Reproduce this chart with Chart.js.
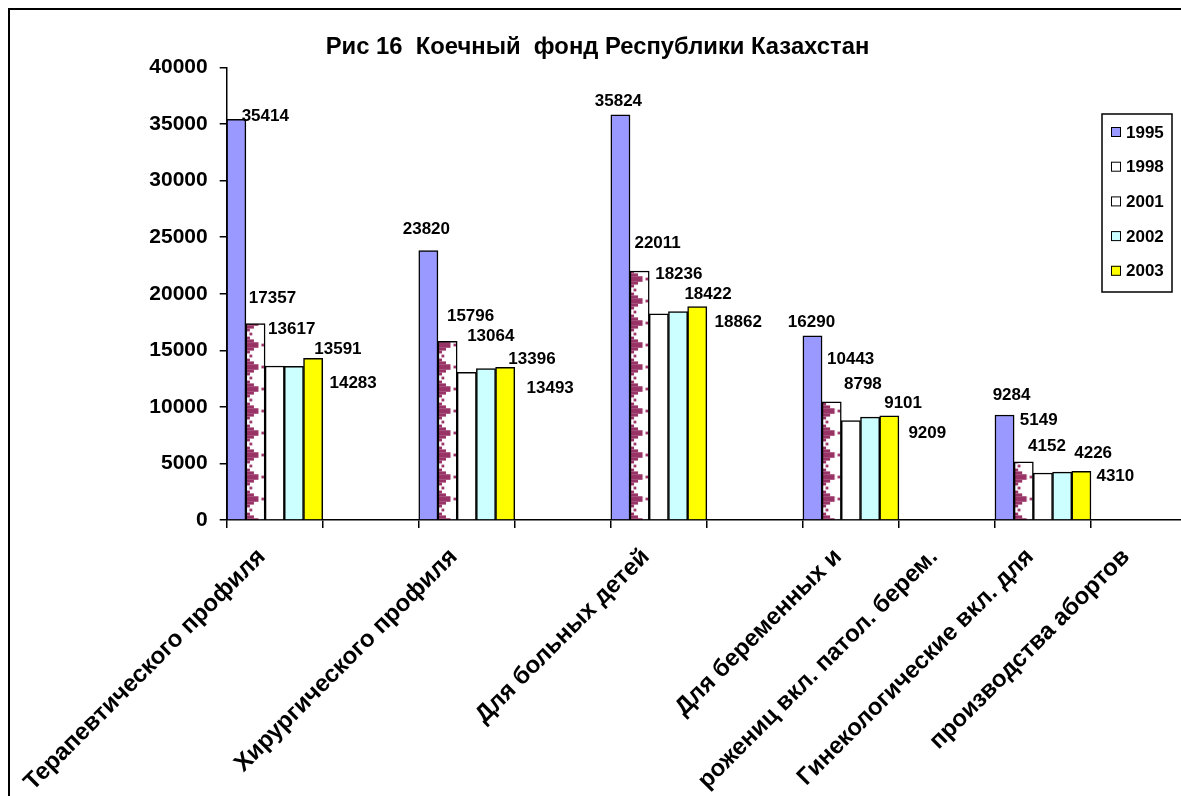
<!DOCTYPE html>
<html>
<head>
<meta charset="utf-8">
<script src="https://cdn.jsdelivr.net/npm/chart.js@4"></script>
<style>
  html, body { margin: 0; padding: 0; background: #fff; overflow: hidden; }
  #wrap { position: absolute; left: 0; top: 0; width: 1194px; height: 796px; }
</style>
</head>
<body>
<div id="wrap"><canvas id="c" width="1194" height="796"></canvas></div>
<script>
// ---- data ----
const categories = [
  'Терапевтического профиля', '',
  'Хирургического профиля', '',
  'Для больных детей', '',
  'Для беременных и', 'рожениц вкл. патол. берем.',
  'Гинекологические вкл. для', 'производства абортов'
];
const seriesNames = ['1995', '1998', '2001', '2002', '2003'];
const values1995 = [35414, null, 23820, null, 35824, null, 16290, null, 9284, null];
const values1998 = [17357, null, 15796, null, 22011, null, 10443, null, 5149, null];
const values2001 = [13617, null, 13064, null, 18236, null, 8798, null, 4152, null];
const values2002 = [13591, null, 13396, null, 18422, null, 9101, null, 4226, null];
const values2003 = [14283, null, 13493, null, 18862, null, 9209, null, 4310, null];
const yMin = 0, yMax = 40000, yStep = 5000;
const titleText = 'Рис 16  Коечный  фонд Республики Казахстан';

// ---- styles ----
const FONT = "'Liberation Sans', Arial, sans-serif";
const colors = ['#9999FF', 'pattern', '#FFFFFF', '#CCFFFF', '#FFFF00'];
const legendSwatch = ['#9999FF', '#FFFFFF', '#FFFFFF', '#CCFFFF', '#FFFF00'];
// label offsets (px) from bar top-centre, per series, per filled category
const labelOffsets = [
  [[29, -3], [-2, -21], [-2, -13], [-1, -13], [7, -20]],
  [[17, -25], [23, -25], [18, -28], [19, -43], [15, -41]],
  [[17, -37], [24, -36], [20, -39], [12, -36], [4, -27]],
  [[44, -17], [46, -9], [30, -17], [33, -14], [31, -19]],
  [[40, 25], [45, 21], [41, 16], [38, 17], [34, 5]]
];

function makePattern(chart) {
  const area = chart.chartArea;
  if (!area) return '#FFFFFF';
  const tile = document.createElement('canvas');
  tile.width = 192; tile.height = 22;
  const t = tile.getContext('2d');
  t.fillStyle = '#FFFFFF'; t.fillRect(0, 0, 192, 22);
  t.fillStyle = '#993366';
  const s = 2.8, top = 11 - 3 * s;
  const widths = [4, 8, 12.5, 12.5, 8, 4];
  widths.forEach((w, i) => t.fillRect(0, top + i * s, w, s));
  t.fillRect(3.5, -1.4, s, s);
  t.fillRect(3.5, 22 - 1.4, s, s);
  t.fillRect(15.5, 11 - 1.4, s, s);
  const pat = t.createPattern(tile, 'repeat');
  const catW = (area.right - area.left) / categories.length;
  if (pat && pat.setTransform) {
    pat.setTransform(new DOMMatrix([catW * 2 / 192, 0, 0, 1, area.left + catW / 5, 4]));
  }
  return pat || '#FFFFFF';
}

const allValues = [values1995, values1998, values2001, values2002, values2003];
const datasets = seriesNames.map((name, i) => ({
  label: name,
  data: allValues[i],
  backgroundColor: colors[i] === 'pattern' ? (ctx) => makePattern(ctx.chart) : colors[i],
  borderColor: '#000000',
  borderWidth: 1.5,
  borderSkipped: 'start',
  categoryPercentage: 1.0,
  barPercentage: 1.0
}));

const framePlugin = {
  id: 'frame',
  beforeDraw(chart) {
    const c = chart.ctx;
    c.save();
    c.fillStyle = '#fff';
    c.fillRect(0, 0, chart.width, chart.height);
    c.strokeStyle = '#000';
    c.lineWidth = 2;
    c.strokeRect(9, 9, chart.width + 50, chart.height + 50);
    c.restore();
  }
};

const valueLabels = {
  id: 'valueLabels',
  afterDatasetsDraw(chart) {
    const c = chart.ctx;
    c.save();
    c.font = 'bold 17px ' + FONT;
    c.fillStyle = '#000';
    c.textAlign = 'center';
    c.textBaseline = 'middle';
    chart.data.datasets.forEach((ds, di) => {
      const meta = chart.getDatasetMeta(di);
      let k = 0;
      ds.data.forEach((v, idx) => {
        if (v === null) return;
        const el = meta.data[idx];
        const off = labelOffsets[di][k++] || [0, -10];
        c.fillText(String(v), el.x + off[0], el.y + off[1]);
      });
    });
    c.restore();
  }
};

const customLegend = {
  id: 'customLegend',
  afterDraw(chart) {
    const c = chart.ctx;
    c.save();
    const x0 = 1102, y0 = 114, w = 70, h = 178;
    c.fillStyle = '#fff';
    c.fillRect(x0, y0, w, h);
    c.strokeStyle = '#000';
    c.lineWidth = 1.5;
    c.strokeRect(x0, y0, w, h);
    c.font = 'bold 17px ' + FONT;
    c.textAlign = 'left';
    c.textBaseline = 'middle';
    chart.data.datasets.forEach((ds, i) => {
      const y = 132 + i * 34.7;
      c.fillStyle = legendSwatch[i];
      c.fillRect(1111, y - 5, 10, 10);
      c.strokeStyle = '#000';
      c.lineWidth = 1;
      c.strokeRect(1111.5, y - 4.5, 9, 9);
      c.fillStyle = '#000';
      c.fillText(ds.label, 1126, y + 1);
    });
    c.restore();
  }
};

new Chart(document.getElementById('c'), {
  type: 'bar',
  data: { labels: categories, datasets },
  options: {
    responsive: false,
    animation: false,
    layout: { padding: { left: 8, right: 7, top: 0, bottom: 0 }, autoPadding: false },
    plugins: {
      legend: { display: false },
      tooltip: { enabled: false },
      title: {
        display: true,
        text: titleText,
        color: '#000',
        font: { family: FONT, size: 23.8, weight: 'bold', lineHeight: 1.2 },
        padding: { top: 33, bottom: 6 }
      }
    },
    scales: {
      x: {
        grid: { offset: true, drawOnChartArea: false, drawTicks: true, tickLength: 8, color: '#000', lineWidth: 1.5 },
        border: { display: true, color: '#000', width: 1.5 },
        ticks: {
          autoSkip: false, maxRotation: 45, minRotation: 45, padding: 15, labelOffset: -13,
          color: '#000', font: { family: FONT, size: 24, weight: 'bold' }
        },
        afterFit(s) { s.height = 276; }
      },
      y: {
        min: yMin, max: yMax,
        grid: { drawOnChartArea: false, drawTicks: true, tickLength: 7, color: '#000', lineWidth: 1.5 },
        border: { display: true, color: '#000', width: 1.5 },
        ticks: {
          stepSize: yStep, padding: 12, color: '#000',
          font: { family: FONT, size: 21, weight: 'bold' },
          callback: (v) => String(v)
        },
        afterFit(s) { s.width = 218.7; }
      }
    }
  },
  plugins: [framePlugin, valueLabels, customLegend]
});
</script>
</body>
</html>
